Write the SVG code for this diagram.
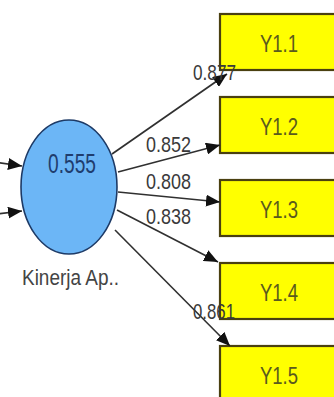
<svg xmlns="http://www.w3.org/2000/svg" width="334" height="397" viewBox="0 0 334 397">
<style>
.box{fill:#ffff00;stroke:#4a4010;stroke-width:2.2}
.blab{font-family:"Liberation Sans",Arial,sans-serif;font-size:24px;fill:#5a5a1e;text-anchor:middle}
.elab{font-family:"Liberation Sans",Arial,sans-serif;font-size:22px;fill:#3a3a3a}
.edge{stroke:#303030;stroke-width:1.6;fill:none;marker-end:url(#ah)}
</style>
<defs>
<marker id="ah" markerUnits="userSpaceOnUse" markerWidth="14" markerHeight="12" refX="14" refY="6" orient="auto">
<path d="M0,0 L14,6 L0,12 Z" fill="#111"/>
</marker>
</defs>
<rect width="334" height="397" fill="#fff"/>
<g id="kinerja">
<ellipse cx="69" cy="187" rx="48" ry="67" fill="#6cb6f6" stroke="#1d3a66" stroke-width="1.6"/>
<text x="72" y="173" font-family="'Liberation Sans',Arial,sans-serif" font-size="27" fill="#1f3d6e" text-anchor="middle" textLength="48" lengthAdjust="spacingAndGlyphs">0.555</text>
<text x="22" y="285" font-family="'Liberation Sans',Arial,sans-serif" font-size="22" fill="#444" textLength="97" lengthAdjust="spacingAndGlyphs">Kinerja Ap..</text>
</g>
<g id="y11"><rect class="box" x="220" y="14" width="120" height="56"/><text class="blab" x="279" y="52" textLength="38" lengthAdjust="spacingAndGlyphs">Y1.1</text></g>
<g id="y12"><rect class="box" x="220" y="97" width="120" height="56"/><text class="blab" x="279" y="135" textLength="38" lengthAdjust="spacingAndGlyphs">Y1.2</text></g>
<g id="y13"><rect class="box" x="220" y="180" width="120" height="56"/><text class="blab" x="279" y="218" textLength="38" lengthAdjust="spacingAndGlyphs">Y1.3</text></g>
<g id="y14"><rect class="box" x="220" y="263" width="120" height="56"/><text class="blab" x="279" y="301" textLength="38" lengthAdjust="spacingAndGlyphs">Y1.4</text></g>
<g id="y15"><rect class="box" x="220" y="346" width="120" height="56"/><text class="blab" x="279" y="384" textLength="38" lengthAdjust="spacingAndGlyphs">Y1.5</text></g>
<g id="connectors">
<line class="edge" x1="-20" y1="160" x2="22" y2="166"/>
<line class="edge" x1="-20" y1="216" x2="22" y2="211"/>
<line class="edge" x1="112" y1="154" x2="227" y2="74"/>
<line class="edge" x1="118" y1="172" x2="220" y2="145"/>
<line class="edge" x1="118" y1="192" x2="220" y2="202"/>
<line class="edge" x1="117" y1="210" x2="218" y2="262"/>
<line class="edge" x1="115" y1="230" x2="230" y2="346"/>
<text class="elab" x="193" y="80" textLength="43" lengthAdjust="spacingAndGlyphs">0.877</text>
<text class="elab" x="146" y="152" textLength="45" lengthAdjust="spacingAndGlyphs">0.852</text>
<text class="elab" x="146" y="189" textLength="45" lengthAdjust="spacingAndGlyphs">0.808</text>
<text class="elab" x="146" y="224" textLength="45" lengthAdjust="spacingAndGlyphs">0.838</text>
<text class="elab" x="193" y="319" textLength="42" lengthAdjust="spacingAndGlyphs">0.861</text>
</g>
</svg>
